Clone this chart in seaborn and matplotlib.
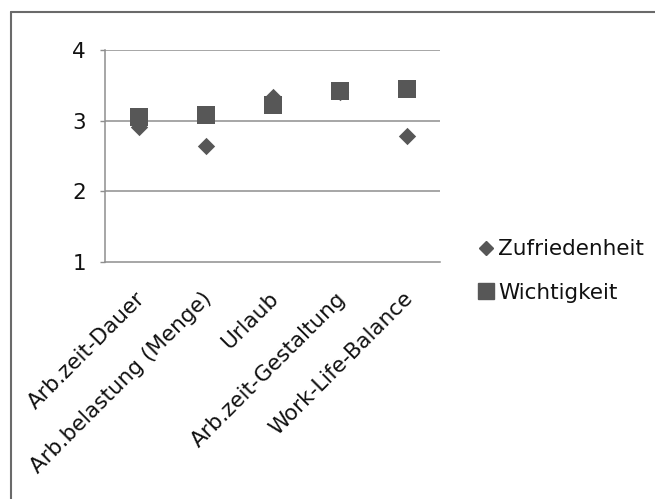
import matplotlib
matplotlib.use("Agg")
import matplotlib.pyplot as plt
import matplotlib.transforms as mtransforms
import seaborn as sns
import pandas as pd
from matplotlib.lines import Line2D

categories = ["Arb.zeit-Dauer", "Arb.belastung (Menge)", "Urlaub",
              "Arb.zeit-Gestaltung", "Work-Life-Balance"]
zufriedenheit = [2.91, 2.64, 3.33, 3.40, 2.78]
wichtigkeit = [3.05, 3.08, 3.22, 3.42, 3.45]
series_names = ["Zufriedenheit", "Wichtigkeit"]
y_ticks = [1, 2, 3, 4]

df_z = pd.DataFrame({"Kategorie": categories, "Wert": zufriedenheit})
df_w = pd.DataFrame({"Kategorie": categories, "Wert": wichtigkeit})

sns.set_style("white")
plt.rcParams["font.family"] = ["DejaVu Sans"]
plt.rcParams["text.color"] = "#111111"
plt.rcParams["xtick.labelcolor"] = "#111111"
plt.rcParams["ytick.labelcolor"] = "#111111"
FS = 15.5

mark_color = "#575757"
grid_color = "#8e8e8e"

fig = plt.figure(figsize=(6.55, 4.99), dpi=100)
ax = fig.add_axes([105 / 655, 1 - 262 / 499, 335 / 655, 212 / 499])

# satisfaction (diamonds) first, importance (squares) drawn on top
sns.scatterplot(data=df_z, x="Kategorie", y="Wert", marker="D", s=78,
                color=mark_color, linewidth=0, ax=ax, zorder=3, legend=False)
sns.scatterplot(data=df_w, x="Kategorie", y="Wert", marker="s", s=150,
                color=mark_color, linewidth=0, ax=ax, zorder=4, legend=False)

ax.set_xlim(-0.5, len(categories) - 0.5)
ax.set_ylim(1, 4)
ax.set_yticks(y_ticks)
ax.set_yticklabels([str(v) for v in y_ticks], fontsize=FS)
ax.set_xticks(range(len(categories)))
ax.set_xticklabels(categories, fontsize=FS, rotation=45, ha="right",
                   va="top", rotation_mode="anchor")
ax.set_xticks([i - 0.5 for i in range(len(categories) + 1)], minor=True)
ax.tick_params(axis="x", which="major", length=0, pad=19)
ax.tick_params(axis="x", which="minor", length=3.6, width=1, color=grid_color,
               direction="out")
ax.tick_params(axis="y", length=3.6, width=1, color=grid_color, direction="out",
               pad=10, left=True)
shift = mtransforms.ScaledTranslation(-4 / 100, 0, fig.dpi_scale_trans)
for lab in ax.get_xticklabels():
    lab.set_transform(lab.get_transform() + shift)
ax.set_xlabel("")
ax.set_ylabel("")

for v in y_ticks[1:]:
    ax.axhline(v, color=grid_color, lw=1.1, zorder=1)

for side in ["top", "right"]:
    ax.spines[side].set_visible(False)
for side in ["left", "bottom"]:
    ax.spines[side].set_color(grid_color)
    ax.spines[side].set_linewidth(1.1)

handles = [
    Line2D([], [], marker="D", color=mark_color, linestyle="none", markersize=7.2),
    Line2D([], [], marker="s", color=mark_color, linestyle="none", markersize=11.5),
]
fig.legend(handles, series_names, loc="center left",
           bbox_to_anchor=(464 / 655, 1 - 271 / 499), frameon=False,
           fontsize=FS, labelspacing=1.1, handletextpad=0.0, handlelength=1.2,
           borderaxespad=0)

# chart frame: top and left edges
fig.add_artist(Line2D([11 / 655, 1], [1 - 12 / 499, 1 - 12 / 499],
                      transform=fig.transFigure, color="#6a6a6a", lw=1.5))
fig.add_artist(Line2D([11 / 655, 11 / 655], [0, 1 - 12 / 499],
                      transform=fig.transFigure, color="#6a6a6a", lw=1.5))

fig.savefig("out.png", dpi=100)
